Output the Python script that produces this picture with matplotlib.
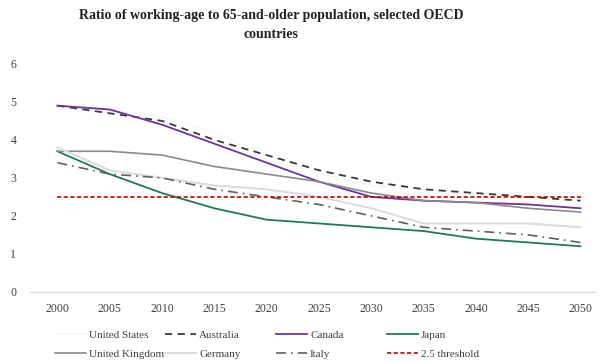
import matplotlib
matplotlib.use("Agg")
import matplotlib.pyplot as plt

years = [2000, 2005, 2010, 2015, 2020, 2025, 2030, 2035, 2040, 2045, 2050]

united_states = [4.9, 4.8, 4.6, 4.2, 3.6, 3.1, 2.8, 2.7, 2.6, 2.5, 2.5]
australia = [4.9, 4.7, 4.5, 4.0, 3.6, 3.2, 2.9, 2.7, 2.6, 2.5, 2.4]
canada = [4.9, 4.8, 4.4, 3.9, 3.4, 2.9, 2.5, 2.4, 2.35, 2.3, 2.2]
japan = [3.7, 3.1, 2.6, 2.2, 1.9, 1.8, 1.7, 1.6, 1.4, 1.3, 1.2]
united_kingdom = [3.7, 3.7, 3.6, 3.3, 3.1, 2.9, 2.6, 2.4, 2.35, 2.2, 2.1]
germany = [3.8, 3.2, 3.0, 2.8, 2.7, 2.5, 2.2, 1.8, 1.8, 1.8, 1.7]
italy = [3.4, 3.1, 3.0, 2.7, 2.5, 2.3, 2.0, 1.7, 1.6, 1.5, 1.3]
threshold = 2.5

plt.rcParams['font.family'] = ['Liberation Serif', 'DejaVu Serif']

fig = plt.figure(figsize=(6.03, 3.63), dpi=100)
ax = fig.add_axes([0.05, 0.196, 0.937, 0.628])

# series (US is almost white in the original, barely visible)
h_us, = ax.plot(years, united_states, color='#f9f8f0', lw=1.3, label='United States')
h_au, = ax.plot(years, australia, color='#3a3a3a', lw=1.3, ls=(0, (4, 3)), label='Australia')
h_ca, = ax.plot(years, canada, color='#7030a0', lw=1.3, label='Canada')
h_jp, = ax.plot(years, japan, color='#1e7a5a', lw=1.3, label='Japan')
h_uk, = ax.plot(years, united_kingdom, color='#8a8a8a', lw=1.2, label='United Kingdom')
h_de, = ax.plot(years, germany, color='#d8dde4', lw=1.5, label='Germany')
h_it, = ax.plot(years, italy, color='#606060', lw=1.2, ls=(0, (6, 3, 1, 3)), label='Italy')
h_th, = ax.plot(years, [threshold] * len(years), color='#c00000', lw=1.2,
                ls=(0, (2.5, 1.5)), label='2.5 threshold')

ax.set_xlim(1997.4, 2051.4)
ax.set_ylim(0, 6)
ax.set_xticks(years)
ax.set_yticks(range(0, 7))
for s in ['top', 'right', 'left']:
    ax.spines[s].set_visible(False)
ax.spines['bottom'].set_color('#d9d9d9')
ax.spines['bottom'].set_linewidth(1.0)
ax.tick_params(axis='both', length=0, labelsize=8.5, colors='#404040')
ax.tick_params(axis='x', pad=8)
ax.tick_params(axis='y', pad=10)

fig.suptitle('Ratio of working-age to 65-and-older population, selected OECD\ncountries',
             fontsize=10, fontweight='bold', color='#222222', y=0.975,
             x=0.45, linespacing=1.6)

# legend: one small legend per column to keep even spacing
columns = [(h_us, h_uk), (h_au, h_de), (h_ca, h_it), (h_jp, h_th)]
xpos = [0.091, 0.273, 0.457, 0.641]
for hs, x0 in zip(columns, xpos):
    leg = fig.legend(handles=list(hs), loc='upper left', bbox_to_anchor=(x0, 0.09),
                     frameon=False, fontsize=8, handlelength=2.8, handletextpad=0.3,
                     labelspacing=0.85, borderaxespad=0, borderpad=0)
    for t in leg.get_texts():
        t.set_color('#404040')

fig.savefig('out.png', dpi=100)
